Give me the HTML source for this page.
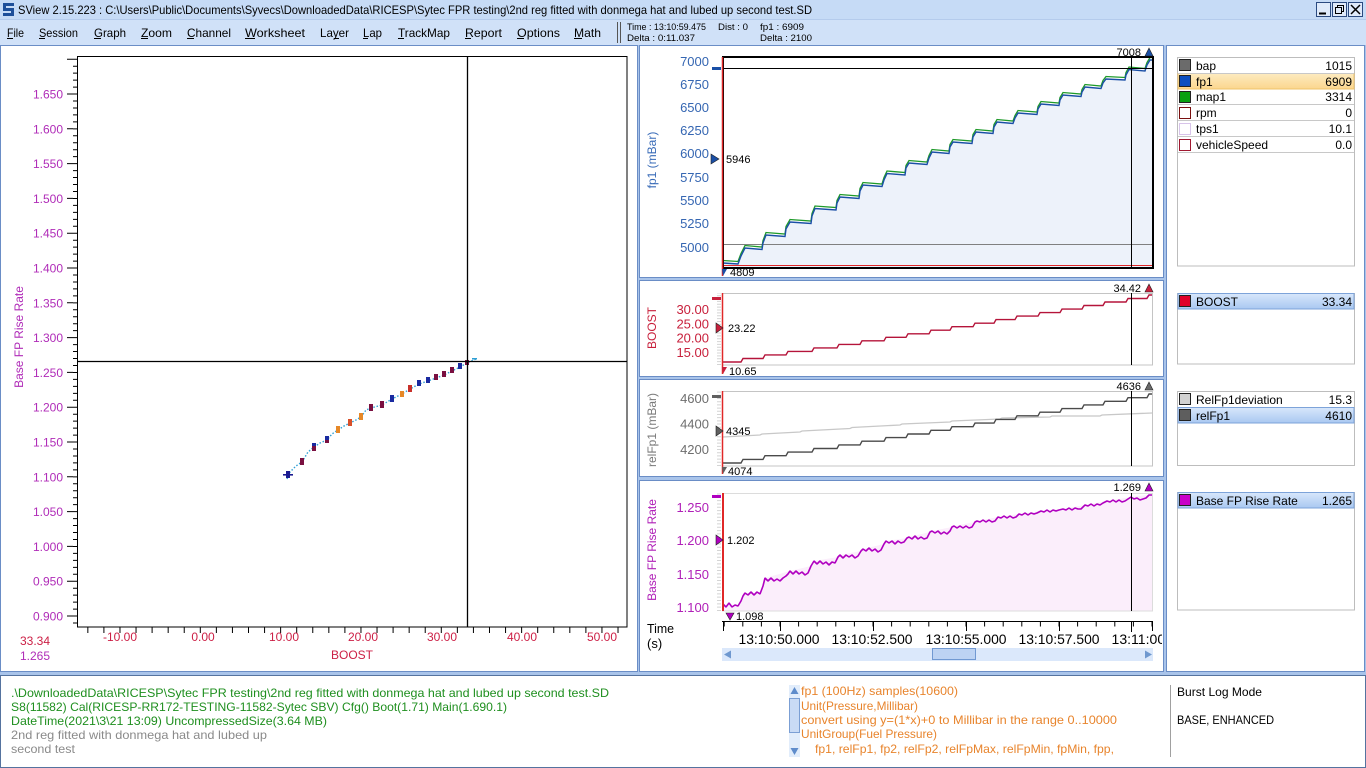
<!DOCTYPE html>
<html><head><meta charset="utf-8"><title>SView</title>
<style>
html,body{margin:0;padding:0;width:1366px;height:768px;overflow:hidden;background:#a9c4ea}
svg{display:block}
text{font-family:"Liberation Sans",sans-serif}
</style></head><body>
<svg width="1366" height="768" viewBox="0 0 1366 768" xmlns="http://www.w3.org/2000/svg">
<defs>
<linearGradient id="hl" x1="0" y1="0" x2="0" y2="1"><stop offset="0" stop-color="#d8e7fb"/><stop offset="1" stop-color="#a9c8f1"/></linearGradient>
<linearGradient id="hlo" x1="0" y1="0" x2="0" y2="1"><stop offset="0" stop-color="#fdebc0"/><stop offset="1" stop-color="#fbd68e"/></linearGradient>
<clipPath id="tclip"><rect x="640" y="630" width="522" height="20"/></clipPath>
<clipPath id="oclip"><rect x="800" y="684" width="360" height="73"/></clipPath>
<path id="fpb" fill="none" d="M723,263 L738,264 L741,256 L745,248 L762,249.5 L763,243 L766,235 L785,236.5 L786,229 L790,222 L811,223.5 L812,216 L815,208.5 L836,210 L837,203 L840,197 L859,198.5 L860,191 L863,185 L882,186.5 L884,180 L887,173.5 L905,175 L906,168 L909,163 L927,164.5 L929,158 L932,152 L949,153.5 L950,147 L953,142 L972,143.5 L973,137 L976,132 L993,133.5 L994,127 L997,122 L1013,123.5 L1015,118 L1018,113 L1037,114.5 L1038,109 L1041,104 L1059,105.5 L1060,100 L1063,95 L1081,96.5 L1082,92 L1085,87 L1101,88.5 L1103,83 L1106,79 L1125,80 L1126,75 L1129,69.5 L1145,71 L1147,65 L1150,60 L1152,60"/>
</defs>

<!-- title bar -->
<rect x="0" y="0" width="1366" height="19" fill="#c6dbf6"/>
<rect x="0" y="19" width="1366" height="26" fill="#d0e1f8"/>
<line x1="0" y1="19.5" x2="1366" y2="19.5" stroke="#b4cbec"/>
<g fill="#1d4f9a">
<rect x="3" y="3" width="11" height="3"/><rect x="3" y="6" width="3" height="3"/><rect x="3" y="8" width="11" height="3"/><rect x="11" y="11" width="3" height="2"/><rect x="3" y="13" width="11" height="3"/>
</g>
<text x="18" y="14" font-size="12" fill="#000" textLength="794" lengthAdjust="spacingAndGlyphs">SView 2.15.223  :  C:\Users\Public\Documents\Syvecs\DownloadedData\RICESP\Sytec FPR testing\2nd reg fitted with donmega hat and lubed up second test.SD</text>
<g fill="none" stroke="#2b4a80">
<rect x="1316.5" y="2.5" width="14" height="14" fill="#dfeafa"/>
<rect x="1332.5" y="2.5" width="14" height="14" fill="#dfeafa"/>
<rect x="1348.5" y="2.5" width="14" height="14" fill="#dfeafa"/>
<line x1="1319" y1="13.5" x2="1326" y2="13.5" stroke-width="2" stroke="#000"/>
<rect x="1337.5" y="5.5" width="6" height="6" stroke="#000"/>
<rect x="1335.5" y="7.5" width="6" height="6" stroke="#000" fill="#dfeafa"/>
<path d="M1351,5 L1360,14 M1360,5 L1351,14" stroke="#000" stroke-width="1.5"/>
</g>

<!-- menu -->
<g font-size="12" fill="#000">
<text x="7" y="37" textLength="17" lengthAdjust="spacingAndGlyphs">File</text>
<text x="39" y="37" textLength="39" lengthAdjust="spacingAndGlyphs">Session</text>
<text x="94" y="37" textLength="32" lengthAdjust="spacingAndGlyphs">Graph</text>
<text x="141" y="37" textLength="31" lengthAdjust="spacingAndGlyphs">Zoom</text>
<text x="187" y="37" textLength="44" lengthAdjust="spacingAndGlyphs">Channel</text>
<text x="245" y="37" textLength="60" lengthAdjust="spacingAndGlyphs">Worksheet</text>
<text x="320" y="37" textLength="29" lengthAdjust="spacingAndGlyphs">Layer</text>
<text x="363" y="37" textLength="19" lengthAdjust="spacingAndGlyphs">Lap</text>
<text x="398" y="37" textLength="52" lengthAdjust="spacingAndGlyphs">TrackMap</text>
<text x="465" y="37" textLength="37" lengthAdjust="spacingAndGlyphs">Report</text>
<text x="517" y="37" textLength="43" lengthAdjust="spacingAndGlyphs">Options</text>
<text x="574" y="37" textLength="27" lengthAdjust="spacingAndGlyphs">Math</text>
</g>
<g stroke="#000" stroke-width="1">
<line x1="7" y1="38.5" x2="13" y2="38.5"/><line x1="39" y1="38.5" x2="45" y2="38.5"/><line x1="94" y1="38.5" x2="101" y2="38.5"/><line x1="141" y1="38.5" x2="148" y2="38.5"/><line x1="187" y1="38.5" x2="194" y2="38.5"/><line x1="245" y1="38.5" x2="255" y2="38.5"/><line x1="334" y1="38.5" x2="339" y2="38.5"/><line x1="363" y1="38.5" x2="368" y2="38.5"/><line x1="398" y1="38.5" x2="404" y2="38.5"/><line x1="465" y1="38.5" x2="471" y2="38.5"/><line x1="517" y1="38.5" x2="524" y2="38.5"/><line x1="574" y1="38.5" x2="582" y2="38.5"/>
</g>
<line x1="617.5" y1="22" x2="617.5" y2="43" stroke="#555"/>
<line x1="620.5" y1="22" x2="620.5" y2="43" stroke="#555"/>
<g font-size="9.5" fill="#000">
<text x="627" y="30" textLength="79" lengthAdjust="spacingAndGlyphs">Time : 13:10:59.475</text>
<text x="718" y="30" textLength="30" lengthAdjust="spacingAndGlyphs">Dist : 0</text>
<text x="760" y="30" textLength="44" lengthAdjust="spacingAndGlyphs">fp1 : 6909</text>
<text x="627" y="41" textLength="68" lengthAdjust="spacingAndGlyphs">Delta : 0:11.037</text>
<text x="760" y="41" textLength="52" lengthAdjust="spacingAndGlyphs">Delta : 2100</text>
</g>

<!-- panels -->
<rect x="0.5" y="45.5" width="637" height="626" fill="#fff" stroke="#6a8dc6"/>
<rect x="639.5" y="45.5" width="524" height="232" fill="#fff" stroke="#6a8dc6"/>
<rect x="639.5" y="280.5" width="524" height="96" fill="#fff" stroke="#6a8dc6"/>
<rect x="639.5" y="379.5" width="524" height="97" fill="#fff" stroke="#6a8dc6"/>
<rect x="639.5" y="480.5" width="524" height="191" fill="#fff" stroke="#6a8dc6"/>
<rect x="1166.5" y="45.5" width="198" height="626" fill="#fff" stroke="#6a8dc6"/>
<rect x="0.5" y="675.5" width="1365" height="92" fill="#fff" stroke="#55739f"/>

<!-- ===== scatter ===== -->
<rect x="77.5" y="56.5" width="549.5" height="570.5" fill="none" stroke="#000"/>
<line x1="75" y1="623.5" x2="75" y2="57" stroke="#000" stroke-width="4" stroke-dasharray="1 5.96"/>
<line x1="70" y1="616.5" x2="70" y2="57" stroke="#000" stroke-width="6" stroke-dasharray="1 33.8"/>
<line x1="87.34" y1="630" x2="627" y2="630" stroke="#000" stroke-width="6" stroke-dasharray="1 15.066"/>
<g font-size="12" fill="#b02cb8" text-anchor="end">
<text x="63" y="98.5">1.650</text><text x="63" y="133.3">1.600</text><text x="63" y="168.1">1.550</text><text x="63" y="202.9">1.500</text><text x="63" y="237.7">1.450</text><text x="63" y="272.5">1.400</text><text x="63" y="307.3">1.350</text><text x="63" y="342.1">1.300</text><text x="63" y="376.9">1.250</text><text x="63" y="411.7">1.200</text><text x="63" y="446.5">1.150</text><text x="63" y="481.3">1.100</text><text x="63" y="516.1">1.050</text><text x="63" y="550.9">1.000</text><text x="63" y="585.7">0.950</text><text x="63" y="620.5">0.900</text>
</g>
<g font-size="12" fill="#cc1f45" text-anchor="middle">
<text x="120" y="641">-10.00</text><text x="203" y="641">0.00</text><text x="284" y="641">10.00</text><text x="363" y="641">20.00</text><text x="442" y="641">30.00</text><text x="522" y="641">40.00</text><text x="602" y="641">50.00</text>
<text x="352" y="659">BOOST</text>
</g>
<text x="20" y="645" font-size="12" fill="#cc1f45">33.34</text>
<text x="20" y="660" font-size="12" fill="#b02cb8">1.265</text>
<text transform="translate(23,337) rotate(-90)" font-size="12" fill="#b02cb8" text-anchor="middle">Base FP Rise Rate</text>
<polyline fill="none" stroke="#2f9fd4" stroke-width="1.4" stroke-dasharray="1.5 1.8" points="287,479 290,472 296,466 302,462 308,452 314,447 320,443 327,440 332,434 338,430 344,426 350,423 356,420 361,417 366,410 371,408 382,405 392,399 402,394 410,389 419,384 428,381 436,378 444,375 452,371 460,367 467,363 476,359"/>
<g>
<rect x="286" y="471" width="4" height="7" fill="#1a1a90"/>
<rect x="283" y="474" width="10" height="1.6" fill="#1a1a90"/>
<rect x="300" y="458" width="4" height="7" fill="#7a1040"/>
<rect x="312" y="443" width="4" height="8" fill="#7a1040"/>
<rect x="312" y="443" width="4" height="3" fill="#1a2aa0"/>
<rect x="325" y="436" width="4" height="7" fill="#1a2aa0"/>
<rect x="325" y="440" width="4" height="3" fill="#7a1040"/>
<rect x="336" y="426" width="4" height="7" fill="#e68828"/>
<rect x="348" y="419" width="4" height="7" fill="#d8502a"/>
<rect x="359" y="413" width="4" height="7" fill="#e68828"/>
<rect x="369" y="404" width="4" height="7" fill="#7a1040"/>
<rect x="380" y="401" width="4" height="7" fill="#7a1040"/>
<rect x="390" y="395" width="4" height="7" fill="#1a2aa0"/>
<rect x="400" y="391" width="4" height="6" fill="#e68828"/>
<rect x="408" y="385" width="4" height="7" fill="#c8302a"/>
<rect x="417" y="380" width="4" height="6" fill="#1a2aa0"/>
<rect x="426" y="377" width="4" height="6" fill="#1a2aa0"/>
<rect x="434" y="374" width="4" height="6" fill="#7a1040"/>
<rect x="442" y="371" width="4" height="6" fill="#7a1040"/>
<rect x="450" y="367" width="4" height="6" fill="#7a1040"/>
<rect x="458" y="363" width="4" height="6" fill="#1a2aa0"/>
<rect x="465" y="360" width="4" height="5" fill="#7a1040"/>
<rect x="472" y="358" width="5" height="1.5" fill="#2f9fd4"/>
</g>
<line x1="467.5" y1="56" x2="467.5" y2="627" stroke="#000" stroke-width="1.3"/>
<line x1="77" y1="361.5" x2="627" y2="361.5" stroke="#000" stroke-width="1.3"/>

<!-- ===== fp1 chart ===== -->
<path d="M723,263 L738,264 L741,256 L745,248 L762,249.5 L763,243 L766,235 L785,236.5 L786,229 L790,222 L811,223.5 L812,216 L815,208.5 L836,210 L837,203 L840,197 L859,198.5 L860,191 L863,185 L882,186.5 L884,180 L887,173.5 L905,175 L906,168 L909,163 L927,164.5 L929,158 L932,152 L949,153.5 L950,147 L953,142 L972,143.5 L973,137 L976,132 L993,133.5 L994,127 L997,122 L1013,123.5 L1015,118 L1018,113 L1037,114.5 L1038,109 L1041,104 L1059,105.5 L1060,100 L1063,95 L1081,96.5 L1082,92 L1085,87 L1101,88.5 L1103,83 L1106,79 L1125,80 L1126,75 L1129,69.5 L1145,71 L1147,65 L1150,60 L1152,60 L1153,268 L723,268 Z" fill="#edf2fa"/>
<line x1="722" y1="244.5" x2="1153" y2="244.5" stroke="#808080"/>
<line x1="722" y1="265.5" x2="1153" y2="265.5" stroke="#e02828"/>
<use href="#fpb" transform="translate(0,-2.5)" stroke="#1f9a2a" stroke-width="1.3"/>
<use href="#fpb" stroke="#1a4fa6" stroke-width="1.4"/>
<line x1="722" y1="68.5" x2="1153" y2="68.5" stroke="#000"/>
<line x1="1131.5" y1="57" x2="1131.5" y2="268" stroke="#000"/>
<rect x="723" y="57" width="430" height="211" fill="none" stroke="#000" stroke-width="2"/>
<line x1="722.5" y1="57" x2="722.5" y2="276" stroke="#e02828" stroke-width="1.5"/>
<line x1="712" y1="68.5" x2="721" y2="68.5" stroke="#1a4fa6" stroke-width="3"/>
<g font-size="13" fill="#3566b2" text-anchor="end">
<text x="709" y="66">7000</text><text x="709" y="89">6750</text><text x="709" y="112">6500</text><text x="709" y="135">6250</text><text x="709" y="158">6000</text><text x="709" y="182">5750</text><text x="709" y="205">5500</text><text x="709" y="228">5250</text><text x="709" y="252">5000</text>
</g>
<text transform="translate(656,160) rotate(-90)" font-size="12" fill="#3a6cb8" text-anchor="middle">fp1 (mBar)</text>
<polygon points="711,154 711,164 719,159" fill="#1a4fa6" stroke="#222" stroke-width="0.6"/>
<text x="726" y="163" font-size="11" fill="#000">5946</text>
<text x="1141" y="56" font-size="11" fill="#000" text-anchor="end">7008</text>
<polygon points="1145,56 1153,56 1149,48" fill="#1a4fa6" stroke="#222" stroke-width="0.6"/>
<polygon points="722,269 727,269 723,276" fill="#1a4fa6"/>
<text x="730" y="276" font-size="11" fill="#000">4809</text>

<!-- ===== BOOST ===== -->
<line x1="719" y1="365" x2="719" y2="293" stroke="#d4d4d4" stroke-width="4" stroke-dasharray="1 1.867"/>
<rect x="722.5" y="293.5" width="430" height="71.5" fill="none" stroke="#c4c4c4"/>
<path fill="none" stroke="#b5143a" stroke-width="1.4" d="M723,362 H741 L743,358.5 H763 L765,354.9 H786 L788,351.4 H812 L814,347.9 H837 L839,344.4 H860 L862,340.8 H884 L886,337.3 H906 L908,333.8 H929 L931,330.2 H950 L952,326.7 H973 L975,323.2 H994 L996,319.6 H1015 L1017,316.1 H1038 L1040,312.6 H1060 L1062,309.1 H1082 L1084,305.5 H1103 L1105,302 H1126 L1128,298.5 H1147 L1149,295 H1152"/>
<line x1="1131.5" y1="293" x2="1131.5" y2="365" stroke="#000"/>
<line x1="722.5" y1="293" x2="722.5" y2="374" stroke="#e02828" stroke-width="1.5"/>
<line x1="712" y1="298.5" x2="721" y2="298.5" stroke="#c8203c" stroke-width="3"/>
<g font-size="13" fill="#c8203c" text-anchor="end">
<text x="709" y="314">30.00</text><text x="709" y="328.5">25.00</text><text x="709" y="342.5">20.00</text><text x="709" y="357">15.00</text>
</g>
<text transform="translate(656,328) rotate(-90)" font-size="12" fill="#c8203c" text-anchor="middle">BOOST</text>
<polygon points="716,323 716,333 723,328" fill="#c8203c" stroke="#222" stroke-width="0.6"/>
<text x="728" y="332" font-size="11" fill="#000">23.22</text>
<text x="1141" y="292" font-size="11" fill="#000" text-anchor="end">34.42</text>
<polygon points="1145,292 1153,292 1149,284" fill="#c8203c" stroke="#222" stroke-width="0.6"/>
<polygon points="722,367 727,367 723,374" fill="#c8203c"/>
<text x="729" y="375" font-size="11" fill="#000">10.65</text>

<!-- ===== relFp1 ===== -->
<line x1="719" y1="466" x2="719" y2="391" stroke="#d4d4d4" stroke-width="4" stroke-dasharray="1 2.19"/>
<rect x="722.5" y="391.5" width="430" height="74.5" fill="none" stroke="#c4c4c4"/>
<path fill="none" stroke="#c8c8c8" stroke-width="1.3" d="M723,437 L760,435 L762,434 L800,432 L802,431 L850,428.5 L852,427.5 L900,425 L902,424 L950,422 L952,421 L1000,419 L1002,418 L1050,417 L1052,416 L1100,416 L1102,415 L1152,413"/>
<path fill="none" stroke="#4a4a4a" stroke-width="1.4" d="M723,463 H741 L743,459.4 H763 L765,455.7 H786 L788,452.1 H812 L814,448.5 H837 L839,444.9 H860 L862,441.2 H884 L886,437.6 H906 L908,434 H929 L931,430.3 H950 L952,426.7 H973 L975,423.1 H994 L996,419.4 H1015 L1017,415.8 H1038 L1040,412.2 H1060 L1062,408.6 H1082 L1084,404.9 H1103 L1105,401.3 H1126 L1128,397.7 H1147 L1149,394 H1152"/>
<line x1="1131.5" y1="391" x2="1131.5" y2="466" stroke="#000"/>
<line x1="722.5" y1="391" x2="722.5" y2="474" stroke="#e02828" stroke-width="1.5"/>
<line x1="712" y1="396.5" x2="721" y2="396.5" stroke="#606060" stroke-width="3"/>
<g font-size="13" fill="#6e6e6e" text-anchor="end">
<text x="709" y="403">4600</text><text x="709" y="428.5">4400</text><text x="709" y="454">4200</text>
</g>
<text transform="translate(656,430) rotate(-90)" font-size="12" fill="#7a7a7a" text-anchor="middle">relFp1 (mBar)</text>
<polygon points="716,426 716,436 723,431" fill="#606060" stroke="#222" stroke-width="0.6"/>
<text x="726" y="435" font-size="11" fill="#000">4345</text>
<text x="1141" y="390" font-size="11" fill="#000" text-anchor="end">4636</text>
<polygon points="1145,390 1153,390 1149,382" fill="#6a6a6a" stroke="#222" stroke-width="0.6"/>
<polygon points="722,467 727,467 723,474" fill="#606060"/>
<text x="728" y="475" font-size="11" fill="#000">4074</text>

<!-- ===== Base FP Rise Rate ===== -->
<path fill="#fbeefb" d="M723,604 L726,607 L729,603 L732,607 L735,605 L738,606 L741,601 L743,596 L745,593 L760,594 L765,578 L790,571 L811,566 L814,561 L838,557 L840,555 L861,551 L863,549 L884,544 L886,541 L907,538 L909,537 L930,532 L932,531 L952,527 L954,526 L975,522 L977,521 L998,517 L1019,514 L1041,511 L1063,509 L1085,505 L1107,501 L1131,497 L1149,495 L1153,495 L1153,611 L723,611 Z"/>
<line x1="719" y1="611" x2="719" y2="493" stroke="#d4d4d4" stroke-width="4" stroke-dasharray="1 2.33"/>
<rect x="722.5" y="493.5" width="430" height="117.5" fill="none" stroke="#dcdcdc"/>
<path fill="none" stroke="#b000c0" stroke-width="1.6" stroke-linejoin="bevel" d="M723,604 L726,607 L729,603 L732,607 L735,605 L738,606 L741,601 L743,596 L745,593 L748,595 L751,592 L754,595 L757,592 L760,594 L763,586 L765,578 L768,581 L771,578 L774,581 L777,579 L780,581 L783,578 L786,576 L788,574 L790,571 L793,574 L796,571 L799,574 L802,572 L805,575 L808,573 L811,566 L814,561 L817,564 L820,561 L823,564 L826,562 L829,565 L832,562 L835,563 L838,557 L840,555 L843,558 L846,555 L849,557 L852,555 L855,558 L858,556 L861,551 L863,549 L866,551 L869,548 L872,551 L875,549 L878,552 L881,550 L884,544 L886,541 L889,543 L892,541 L895,544 L898,541 L901,543 L904,542 L907,538 L909,537 L912,539 L915,536 L918,539 L921,537 L924,539 L927,538 L930,532 L932,531 L935,533 L938,531 L941,534 L944,532 L947,534 L950,531 L952,527 L954,526 L957,528 L960,526 L963,528 L966,526 L969,528 L972,527 L975,522 L977,521 L980,522 L983,520 L986,522 L989,520 L992,522 L995,521 L998,517 L1001,518 L1004,516 L1007,518 L1010,516 L1013,518 L1016,517 L1019,514 L1022,515 L1025,513 L1028,515 L1031,513 L1034,514 L1037,513 L1041,511 L1044,512 L1047,510 L1050,512 L1053,510 L1056,511 L1059,510 L1063,509 L1066,510 L1069,508 L1072,510 L1075,508 L1078,509 L1081,509 L1085,505 L1088,506 L1091,504 L1094,506 L1097,504 L1100,505 L1103,503 L1107,501 L1110,502 L1113,500 L1116,502 L1119,500 L1122,502 L1125,501 L1128,499 L1131,497 L1134,499 L1137,498 L1140,500 L1143,499 L1146,498 L1149,495 L1152,495"/>
<line x1="1131.5" y1="493" x2="1131.5" y2="611" stroke="#000"/>
<line x1="723" y1="493" x2="723" y2="611" stroke="#e02828" stroke-width="2"/>
<line x1="712" y1="496.5" x2="721" y2="496.5" stroke="#b000c0" stroke-width="3"/>
<g font-size="13" fill="#b020b8" text-anchor="end">
<text x="709" y="512">1.250</text><text x="709" y="545">1.200</text><text x="709" y="579">1.150</text><text x="709" y="612">1.100</text>
</g>
<text transform="translate(656,550) rotate(-90)" font-size="12" fill="#b020b8" text-anchor="middle">Base FP Rise Rate</text>
<polygon points="716,535 716,545 723,540" fill="#b000c0" stroke="#222" stroke-width="0.6"/>
<text x="727" y="544" font-size="11" fill="#000">1.202</text>
<text x="1141" y="491" font-size="11" fill="#000" text-anchor="end">1.269</text>
<polygon points="1145,491 1153,491 1149,483" fill="#b000c0" stroke="#222" stroke-width="0.6"/>
<polygon points="726,613 734,613 730,620" fill="#b000c0" stroke="#222" stroke-width="0.6"/>
<text x="736" y="620" font-size="11" fill="#000">1.098</text>

<!-- time axis -->
<line x1="722" y1="621.5" x2="1153" y2="621.5" stroke="#000"/>
<line x1="723.7" y1="624" x2="1153" y2="624" stroke="#000" stroke-width="5" stroke-dasharray="1 17.6"/>
<g stroke="#000">
<line x1="723.5" y1="621" x2="723.5" y2="631"/><line x1="780.5" y1="621" x2="780.5" y2="631"/><line x1="873.5" y1="621" x2="873.5" y2="631"/><line x1="966.5" y1="621" x2="966.5" y2="631"/><line x1="1059.5" y1="621" x2="1059.5" y2="631"/><line x1="1152.5" y1="621" x2="1152.5" y2="631"/><line x1="1131.5" y1="621" x2="1131.5" y2="632"/>
</g>
<g font-size="14" fill="#000" text-anchor="middle" clip-path="url(#tclip)">
<text x="779" y="644" textLength="81" lengthAdjust="spacingAndGlyphs">13:10:50.000</text>
<text x="872" y="644" textLength="81" lengthAdjust="spacingAndGlyphs">13:10:52.500</text>
<text x="966" y="644" textLength="81" lengthAdjust="spacingAndGlyphs">13:10:55.000</text>
<text x="1059" y="644" textLength="81" lengthAdjust="spacingAndGlyphs">13:10:57.500</text>
<text x="1152" y="644" textLength="81" lengthAdjust="spacingAndGlyphs">13:11:00.000</text>
</g>
<text x="647" y="633" font-size="13" fill="#000" textLength="27" lengthAdjust="spacingAndGlyphs">Time</text>
<text x="647" y="648" font-size="13" fill="#000">(s)</text>
<rect x="722" y="648" width="431" height="13" fill="#dbe8fb"/>
<rect x="932.5" y="648.5" width="43" height="11" fill="#bdd3f3" stroke="#7199d2"/>
<polygon points="724,654.5 731,650.5 731,658.5" fill="#6f98cf"/>
<polygon points="1152,654.5 1145,650.5 1145,658.5" fill="#6f98cf"/>

<!-- ===== legends ===== -->
<rect x="1177.5" y="57.5" width="177" height="208.5" fill="#fff" stroke="#bdbdbd"/>
<rect x="1178" y="73.5" width="176" height="15.5" fill="url(#hlo)" stroke="#efc36a"/>
<g stroke="#c8c8c8"><line x1="1178" y1="73.5" x2="1354" y2="73.5"/><line x1="1178" y1="104.5" x2="1354" y2="104.5"/><line x1="1178" y1="120.5" x2="1354" y2="120.5"/><line x1="1178" y1="136.5" x2="1354" y2="136.5"/><line x1="1178" y1="152.5" x2="1354" y2="152.5"/></g>
<rect x="1179.5" y="59.5" width="11" height="11" fill="#6b6b6b" stroke="#222"/>
<rect x="1179.5" y="75.5" width="11" height="11" fill="#0c4fc0" stroke="#222"/>
<rect x="1179.5" y="91.5" width="11" height="11" fill="#08a010" stroke="#222"/>
<rect x="1179.5" y="107.5" width="11" height="11" fill="#fff" stroke="#7a1010"/>
<rect x="1179.5" y="123.5" width="11" height="11" fill="#fff" stroke="#d8c4ea"/>
<rect x="1179.5" y="139.5" width="11" height="11" fill="#fff" stroke="#a01830"/>
<g font-size="12" fill="#000">
<text x="1196" y="70">bap</text><text x="1196" y="86">fp1</text><text x="1196" y="101">map1</text><text x="1196" y="117">rpm</text><text x="1196" y="133">tps1</text><text x="1196" y="149">vehicleSpeed</text>
</g>
<g font-size="12" fill="#000" text-anchor="end">
<text x="1352" y="70">1015</text><text x="1352" y="86">6909</text><text x="1352" y="101">3314</text><text x="1352" y="117">0</text><text x="1352" y="133">10.1</text><text x="1352" y="149">0.0</text>
</g>

<rect x="1177.5" y="293.5" width="177" height="70.5" fill="#fff" stroke="#bdbdbd"/>
<rect x="1178" y="293.5" width="176" height="15.5" fill="url(#hl)" stroke="#7da3d9"/>
<rect x="1179.5" y="295.5" width="11" height="11" fill="#e0002a" stroke="#222"/>
<text x="1196" y="306" font-size="12" fill="#000">BOOST</text>
<text x="1352" y="306" font-size="12" fill="#000" text-anchor="end">33.34</text>

<rect x="1177.5" y="391.5" width="177" height="74" fill="#fff" stroke="#bdbdbd"/>
<line x1="1178" y1="407.5" x2="1354" y2="407.5" stroke="#c8c8c8"/>
<rect x="1178" y="407.5" width="176" height="15.5" fill="url(#hl)" stroke="#7da3d9"/>
<rect x="1179.5" y="393.5" width="11" height="11" fill="#d2d2d2" stroke="#222"/>
<rect x="1179.5" y="409.5" width="11" height="11" fill="#5e5e5e" stroke="#222"/>
<text x="1196" y="404" font-size="12" fill="#000">RelFp1deviation</text>
<text x="1352" y="404" font-size="12" fill="#000" text-anchor="end">15.3</text>
<text x="1196" y="420" font-size="12" fill="#000">relFp1</text>
<text x="1352" y="420" font-size="12" fill="#000" text-anchor="end">4610</text>

<rect x="1177.5" y="492.5" width="177" height="117.5" fill="#fff" stroke="#bdbdbd"/>
<rect x="1178" y="492.5" width="176" height="15.5" fill="url(#hl)" stroke="#7da3d9"/>
<rect x="1179.5" y="494.5" width="11" height="11" fill="#c800c8" stroke="#222"/>
<text x="1196" y="505" font-size="12" fill="#000">Base FP Rise Rate</text>
<text x="1352" y="505" font-size="12" fill="#000" text-anchor="end">1.265</text>

<!-- ===== status ===== -->
<g font-size="12" fill="#1f8f1f">
<text x="11" y="697" textLength="598" lengthAdjust="spacingAndGlyphs">.\DownloadedData\RICESP\Sytec FPR testing\2nd reg fitted with donmega hat and lubed up second test.SD</text>
<text x="11" y="711" textLength="496" lengthAdjust="spacingAndGlyphs">S8(11582) Cal(RICESP-RR172-TESTING-11582-Sytec SBV) Cfg() Boot(1.71) Main(1.690.1)</text>
<text x="11" y="725" textLength="316" lengthAdjust="spacingAndGlyphs">DateTime(2021\3\21 13:09) UncompressedSize(3.64 MB)</text>
</g>
<g font-size="12" fill="#8a8a8a">
<text x="11" y="739" textLength="256" lengthAdjust="spacingAndGlyphs">2nd reg fitted with donmega hat and lubed up</text>
<text x="11" y="753" textLength="64" lengthAdjust="spacingAndGlyphs">second test</text>
</g>
<rect x="789" y="685" width="11" height="72" fill="#e2edfb"/>
<polygon points="794.5,687 790.5,694 798.5,694" fill="#5f8ccb"/>
<rect x="789.5" y="698.5" width="10" height="34" fill="#c9dbf5" stroke="#7b9fd4"/>
<polygon points="794.5,755 790.5,748 798.5,748" fill="#5f8ccb"/>
<g font-size="12" fill="#e8842c" clip-path="url(#oclip)">
<text x="801" y="695" textLength="157" lengthAdjust="spacingAndGlyphs">fp1 (100Hz) samples(10600)</text>
<text x="801" y="710" textLength="117" lengthAdjust="spacingAndGlyphs">Unit(Pressure,Millibar)</text>
<text x="801" y="724" textLength="316" lengthAdjust="spacingAndGlyphs">convert using y=(1*x)+0 to Millibar in the range 0..10000</text>
<text x="801" y="738" textLength="136" lengthAdjust="spacingAndGlyphs">UnitGroup(Fuel Pressure)</text>
<text x="815" y="753" textLength="299" lengthAdjust="spacingAndGlyphs">fp1, relFp1, fp2, relFp2, relFpMax, relFpMin, fpMin, fpp,</text>
<text x="815" y="767" textLength="299" lengthAdjust="spacingAndGlyphs">fpMax, relFpp, fpDev, relFpDev, fp1Raw, fp2Raw, fpTarget,</text>
</g>
<line x1="1170.5" y1="685" x2="1170.5" y2="757" stroke="#a0a0a0"/>
<text x="1177" y="696" font-size="12" fill="#000" textLength="85" lengthAdjust="spacingAndGlyphs">Burst Log Mode</text>
<text x="1177" y="724" font-size="12" fill="#000" textLength="97" lengthAdjust="spacingAndGlyphs">BASE, ENHANCED</text>
</svg>
</body></html>
